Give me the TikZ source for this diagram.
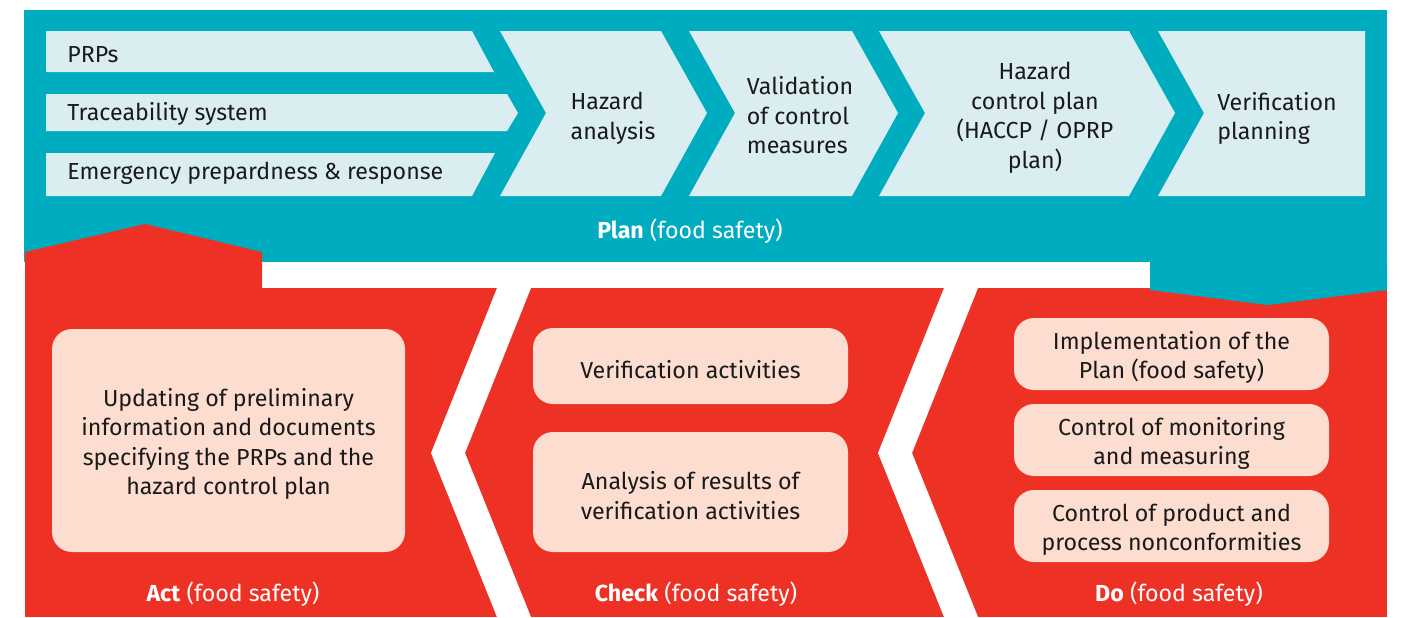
\documentclass[tikz,border=0pt]{standalone}
\usepackage{fontspec}
\setmainfont{Fira Sans}
\usetikzlibrary{calc}
\definecolor{planteal}{RGB}{0,172,192}
\definecolor{planlight}{RGB}{218,238,241}
\definecolor{dored}{RGB}{238,49,37}
\definecolor{dopeach}{RGB}{253,221,207}
\definecolor{inkgrey}{RGB}{26,26,26}
\def\chevron[#1](#2:#3){\fill[#1] (#2,31) -- (#3,31) -- ({#3+46},113) -- (#3,196) -- (#2,196) -- ({#2+46},113) -- cycle;}
\def\lift{\rule{0pt}{12.5pt}}
\tikzset{
	txt/.style={text=inkgrey, font=\fontsize{11.6}{14.75}\selectfont, inner sep=0pt},
	peachbox/.style={txt, fill=dopeach, rounded corners=10pt, align=center, minimum width=157.5pt},
	phase/.style={text=white, font=\fontsize{11.6}{14}\selectfont, inner sep=0pt}
}

\begin{document}
\begin{tikzpicture}[x=0.5pt, y=-0.5pt]
			%%%%% START %%%%%
			\useasboundingbox (0,0) rectangle (1401,617);
			
			% plan band
			\fill[planteal] (24,10) rectangle (1387,262);
			
			\fill[planlight] (46,31) -- (472,31) -- (494,72) -- (46,72) -- cycle;
			\fill[planlight] (46,94) -- (507,94) -- (518,113) -- (507,131) -- (46,131) -- cycle;
			\fill[planlight] (46,153) -- (495,153) -- (472,196) -- (46,196) -- cycle;
			
			\chevron[planlight](500:661)
			\chevron[planlight](689:852)
			\chevron[planlight](879:1129)
			\fill[planlight] (1158,31) -- (1365,31) -- (1365,196) -- (1158,196) -- (1204,113) -- cycle;
			
			% act / check / do band
			\fill[dored] (25,288) rectangle (1387,617);
			\fill[dored] (25,288) -- (25,252) -- (145,224) -- (262,252) -- (262,288) -- cycle;
			\fill[planteal] (1150,262) -- (1387,262) -- (1387,290) -- (1268,305) -- (1150,290) -- cycle;
			
			\fill[white] (497,288) -- (431,453) -- (497,617) -- (531,617) -- (465,453) -- (531,288) -- cycle;
			\fill[white] (944,288) -- (878,453) -- (944,617) -- (978,617) -- (912,453) -- (978,288) -- cycle;
			
			% plan texts
			\node[txt, anchor=west] (prps) at (67,54.5) {PRPs};
			\node[txt, anchor=west] (trace) at (67,113.5) {Traceability system};
			\node[txt, anchor=west] (emerg) at (67,173.5) {Emergency prepardness \& response};
			\node[txt, align=left] (hazard) at (613,118.5) {Hazard\\analysis};
			\node[txt, align=left] (valid) at (800,115.5) {Validation\\of control\\measures};
			\node[txt, align=center] (hcp) at (1035,118) {Hazard\\control plan\\(HACCP / OPRP\\plan)};
			\node[txt, align=left] (verplan) at (1277,118.5) {Verification\\planning};
			\node[phase] (plan) at (690,231.5) {\textbf{Plan} (food safety)};
			
			% act
			\node[peachbox, minimum width=176.5pt, minimum height=111.5pt] (update) at (228.5,440.5) {\lift Updating of preliminary\\information and documents\\specifying the PRPs and the\\hazard control plan};
			\node[phase] (act) at (233,594) {\textbf{Act} (food safety)};
			
			% check
			\node[peachbox, minimum height=38pt] (veract) at (690.5,366) {\lift Verification activities};
			\node[peachbox, minimum height=60pt] (results) at (690.5,492) {\lift Analysis of results of\\verification activities};
			\node[phase] (check) at (696,594) {\textbf{Check} (food safety)};
			
			% do
			\node[peachbox, minimum height=36pt] (implem) at (1171.5,354) {\lift Implementation of the\\Plan (food safety)};
			\node[peachbox, minimum height=36pt] (monitor) at (1171.5,440) {\lift Control of monitoring\\and measuring};
			\node[peachbox, minimum height=36pt] (noncon) at (1171.5,526) {\lift Control of product and\\process nonconformities};
			\node[phase] (do) at (1179,594) {\textbf{Do} (food safety)};
			%%%%% END %%%%%
\end{tikzpicture}
\end{document}
